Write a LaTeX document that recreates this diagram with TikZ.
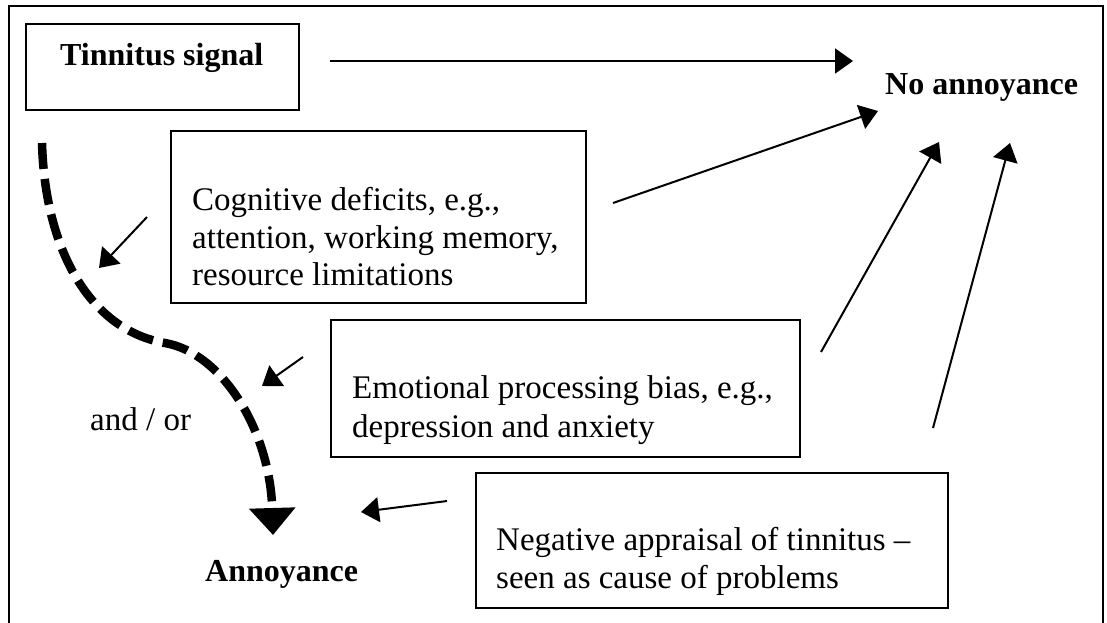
\documentclass[tikz,border=0pt]{standalone}
\usepackage{fontspec}
\setmainfont{Liberation Serif}
\usetikzlibrary{arrows.meta}
\begin{document}
\begin{tikzpicture}[x=1pt,y=-1pt,
  boxstyle/.style={draw, line width=2.2pt, inner sep=0pt, anchor=north west},
  txt/.style={font=\fontsize{33}{38}\selectfont, inner sep=0pt, anchor=base west},
  btxt/.style={font=\fontsize{32}{38}\selectfont\bfseries, inner sep=0pt, anchor=base west},
  arr/.style={line width=2pt, -{Triangle[length=18pt,width=25pt]}},
  dasharr/.style={line width=8.5pt, dash pattern=on 26pt off 10pt, -{Triangle[length=27pt,width=45pt]}},
  frame/.style={line width=2pt}
]
\useasboundingbox (0,0) rectangle (1107,622);
% outer frame
\draw[frame] (9,630) -- (9,6) -- (1103,6) -- (1103,630);

% boxes
\node[boxstyle, minimum width=273pt, minimum height=86pt] (tbox) at (25,23) {};
\node[boxstyle, minimum width=415pt, minimum height=172pt] (cbox) at (170,130) {};
\node[boxstyle, minimum width=469pt, minimum height=137pt] (ebox) at (330,319) {};
\node[boxstyle, minimum width=472pt, minimum height=135pt] (nbox) at (475,472) {};

% texts
\node[btxt] (tsig) at (60,65) {Tinnitus signal};
\node[btxt] (noann) at (885,94) {No annoyance};
\node[btxt] (ann) at (205,581) {Annoyance};
\node[txt] (andor) at (90,430) {and / or};

\node[txt] (c1) at (192,210) {Cognitive deficits, e.g.,};
\node[txt] (c2) at (192,248) {attention, working memory,};
\node[txt] (c3) at (192,285) {resource limitations};

\node[txt] (e1) at (352,398) {Emotional processing bias, e.g.,};
\node[txt] (e2) at (352,437) {depression and anxiety};

\node[txt] (n1) at (496,550) {Negative appraisal of tinnitus –};
\node[txt] (n2) at (496,588) {seen as cause of problems};

% connector endpoints
\coordinate (a1s) at (330,61);  \coordinate (a1e) at (853,61);
\coordinate (a2s) at (613,203); \coordinate (a2e) at (878,111);
\coordinate (a3s) at (821,352); \coordinate (a3e) at (939,142);
\coordinate (a4s) at (933,428); \coordinate (a4e) at (1010,143);
\coordinate (a5s) at (447,501); \coordinate (a5e) at (361,512);
\coordinate (a6s) at (147,217); \coordinate (a6e) at (99,268);
\coordinate (a7s) at (303,357); \coordinate (a7e) at (262,386);

\draw[arr] (a1s) -- (a1e);
\draw[arr] (a2s) -- (a2e);
\draw[arr] (a3s) -- (a3e);
\draw[arr] (a4s) -- (a4e);
\draw[arr] (a5s) -- (a5e);
\draw[arr] (a6s) -- (a6e);
\draw[arr] (a7s) -- (a7e);

% dashed curved path
\coordinate (d0) at (42,143);
\coordinate (d1) at (165,343);
\coordinate (d2) at (273,535);
\draw[dasharr] (d0) .. controls (45,250) and (90,330) .. (d1)
  .. controls (222,353) and (270,430) .. (d2);
\end{tikzpicture}
\end{document}
